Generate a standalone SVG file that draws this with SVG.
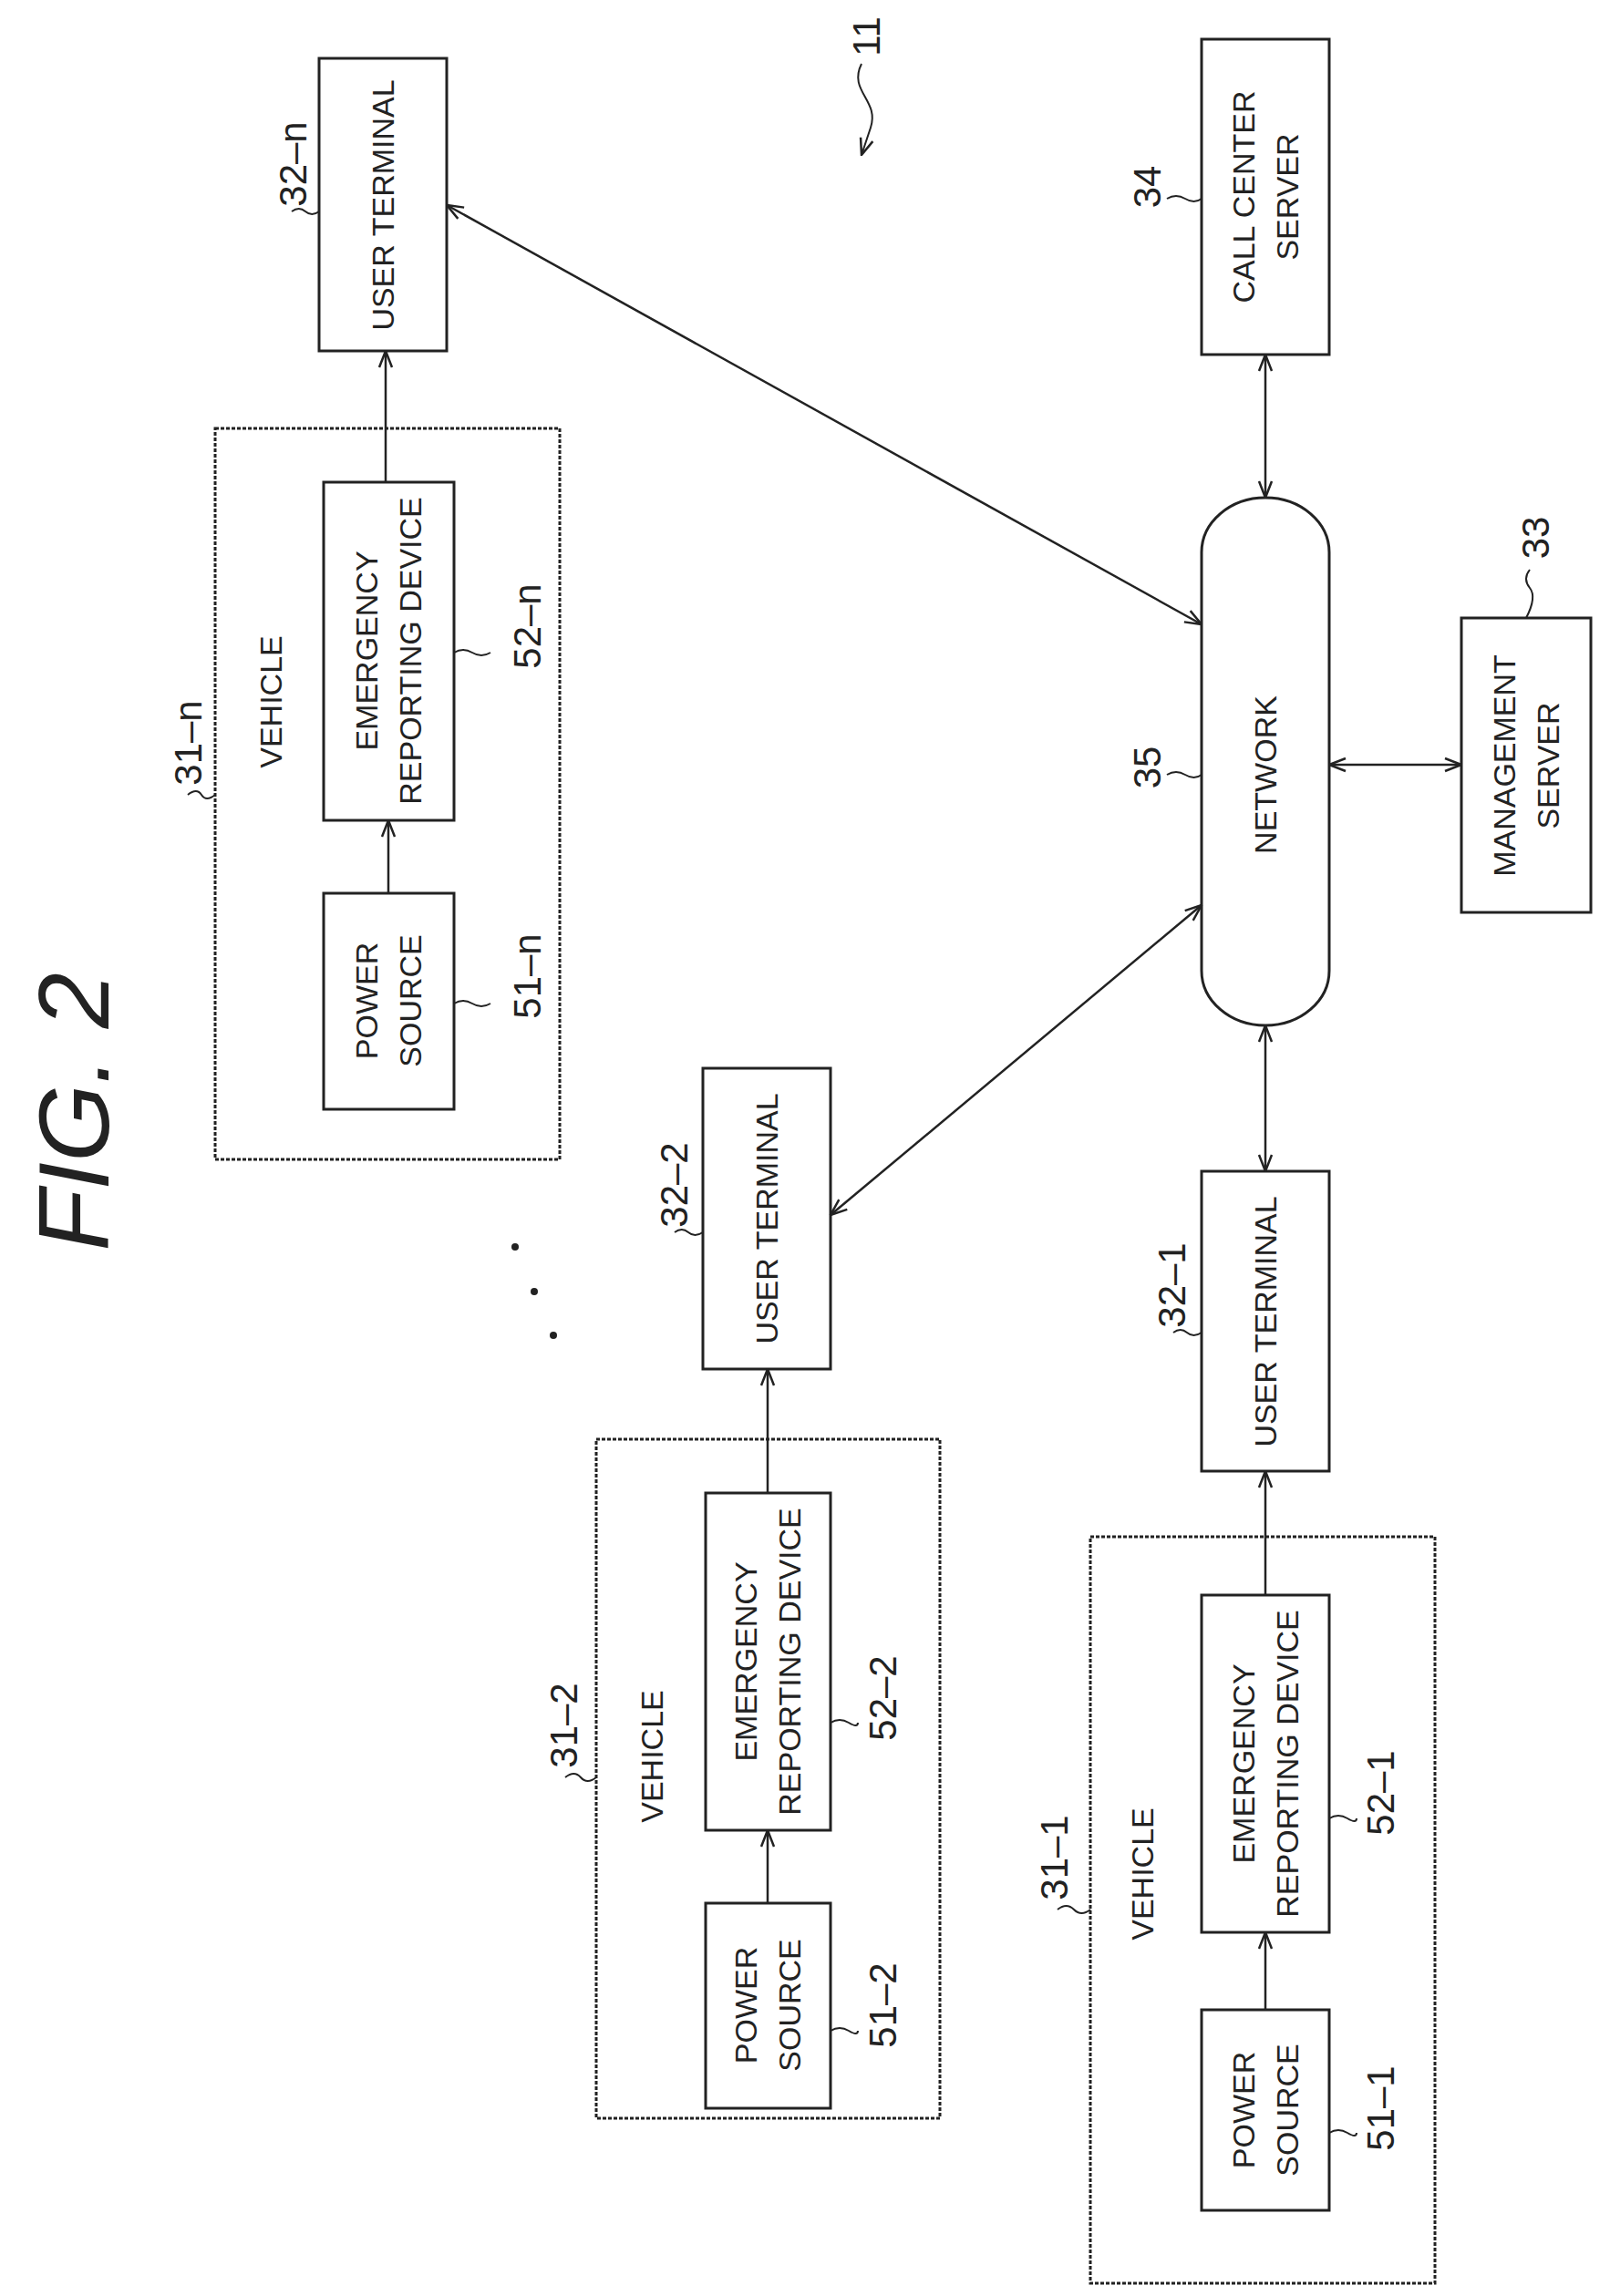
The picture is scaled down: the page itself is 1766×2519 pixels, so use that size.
<svg xmlns="http://www.w3.org/2000/svg" width="1766" height="2519" viewBox="0 0 1766 2519">
<style>
.b{fill:#fff;stroke:#222;stroke-width:3}
.v{fill:none;stroke:#222;stroke-width:3;stroke-dasharray:4 2}
.t{font-family:"Liberation Sans",Arial,sans-serif;font-size:34px;fill:#222;text-anchor:middle;dominant-baseline:central}
.n{font-family:"Liberation Sans",Arial,sans-serif;font-size:42px;fill:#222;text-anchor:middle;dominant-baseline:central}
.c{fill:none;stroke:#222;stroke-width:2.5}
.l{fill:none;stroke:#222;stroke-width:2}
</style>
<defs>
<marker id="a" viewBox="0 0 20 20" refX="19" refY="10" markerWidth="20" markerHeight="20" markerUnits="userSpaceOnUse" orient="auto-start-reverse">
<path d="M1,3 L19,10 L1,17" fill="none" stroke="#222" stroke-width="2.5"/>
</marker>
</defs>
<rect width="1766" height="2519" fill="#fff"/>
<text transform="translate(80,1220) rotate(-90)" font-family="Liberation Sans,Arial,sans-serif" font-style="italic" font-size="110" text-anchor="middle" dominant-baseline="central" fill="#222">FIG. 2</text>
<g id="ref11"><text class="n" transform="translate(950,40) rotate(-90)">11</text><path class="l" d="M945,70 C930,100 965,110 955,140 L945,170" marker-end="url(#a)"/></g>

<g id="vehicle-n"><rect class="v" x="236" y="470" width="378" height="802"/><text class="t" transform="translate(297,770) rotate(-90)">VEHICLE</text><text class="n" transform="translate(206,815) rotate(-90)">31–n</text><path class="l" d="M206,872 q10,-8 15,0 t15,0"/></g>
<g id="erd-n"><rect class="b" x="355" y="529" width="143" height="371"/><text class="t" transform="translate(426,714) rotate(-90)"><tspan x="0" y="-24">EMERGENCY</tspan><tspan x="0" y="24">REPORTING DEVICE</tspan></text><text class="n" transform="translate(578,687) rotate(-90)">52–n</text><path class="l" d="M498,716 q10,-6 20,0 t20,0"/></g>
<g id="ps-n"><rect class="b" x="355" y="980" width="143" height="237"/><text class="t" transform="translate(426,1098) rotate(-90)"><tspan x="0" y="-24">POWER</tspan><tspan x="0" y="24">SOURCE</tspan></text><text class="n" transform="translate(578,1071) rotate(-90)">51–n</text><path class="l" d="M498,1101 q10,-6 20,0 t20,0"/></g>
<g id="ut-n"><rect class="b" x="350" y="64" width="140" height="321"/><text class="t" transform="translate(420,225) rotate(-90)">USER TERMINAL</text><text class="n" transform="translate(321,180) rotate(-90)">32–n</text><path class="l" d="M320,232 q8,-6 15,0 t15,0"/></g>

<g id="ccs"><rect class="b" x="1318" y="43" width="140" height="346"/><text class="t" transform="translate(1388,216) rotate(-90)"><tspan x="0" y="-24">CALL CENTER</tspan><tspan x="0" y="24">SERVER</tspan></text><text class="n" transform="translate(1258,205) rotate(-90)">34</text><path class="l" d="M1280,218 q10,-6 20,0 t18,0"/></g>
<g id="network"><rect class="b" x="1318" y="546" width="140" height="579" rx="70" ry="60"/><text class="t" transform="translate(1388,850) rotate(-90)">NETWORK</text><text class="n" transform="translate(1258,842) rotate(-90)">35</text><path class="l" d="M1280,850 q10,-6 20,0 t18,0"/></g>
<g id="mgmt"><rect class="b" x="1603" y="678" width="142" height="323"/><text class="t" transform="translate(1674,840) rotate(-90)"><tspan x="0" y="-24">MANAGEMENT</tspan><tspan x="0" y="24">SERVER</tspan></text><text class="n" transform="translate(1684,590) rotate(-90)">33</text><path class="l" d="M1678,625 q-8,10 0,20 t-4,33"/></g>

<g id="ut-2"><rect class="b" x="771" y="1172" width="140" height="330"/><text class="t" transform="translate(841,1337) rotate(-90)">USER TERMINAL</text><text class="n" transform="translate(739,1300) rotate(-90)">32–2</text><path class="l" d="M740,1352 q8,-6 15,0 t16,0"/></g>
<g id="ut-1"><rect class="b" x="1318" y="1285" width="140" height="329"/><text class="t" transform="translate(1388,1450) rotate(-90)">USER TERMINAL</text><text class="n" transform="translate(1285,1410) rotate(-90)">32–1</text><path class="l" d="M1287,1462 q8,-6 15,0 t16,0"/></g>

<g id="dots"><circle cx="565" cy="1368" r="4" fill="#222"/><circle cx="586" cy="1417" r="4" fill="#222"/><circle cx="607" cy="1465" r="4" fill="#222"/></g>

<g id="vehicle-2"><rect class="v" x="654" y="1579" width="377" height="745"/><text class="t" transform="translate(715,1927) rotate(-90)">VEHICLE</text><text class="n" transform="translate(618,1893) rotate(-90)">31–2</text><path class="l" d="M620,1950 q10,-8 17,0 t17,0"/></g>
<g id="erd-2"><rect class="b" x="774" y="1638" width="137" height="370"/><text class="t" transform="translate(842,1823) rotate(-90)"><tspan x="0" y="-24">EMERGENCY</tspan><tspan x="0" y="24">REPORTING DEVICE</tspan></text><text class="n" transform="translate(968,1863) rotate(-90)">52–2</text><path class="l" d="M911,1890 q10,-6 20,0 t10,0"/></g>
<g id="ps-2"><rect class="b" x="774" y="2088" width="137" height="225"/><text class="t" transform="translate(842,2200) rotate(-90)"><tspan x="0" y="-24">POWER</tspan><tspan x="0" y="24">SOURCE</tspan></text><text class="n" transform="translate(968,2200) rotate(-90)">51–2</text><path class="l" d="M911,2228 q10,-6 20,0 t10,0"/></g>

<g id="vehicle-1"><rect class="v" x="1196" y="1686" width="378" height="819"/><text class="t" transform="translate(1253,2056) rotate(-90)">VEHICLE</text><text class="n" transform="translate(1156,2038) rotate(-90)">31–1</text><path class="l" d="M1160,2095 q10,-8 18,0 t18,0"/></g>
<g id="erd-1"><rect class="b" x="1318" y="1750" width="140" height="370"/><text class="t" transform="translate(1388,1935) rotate(-90)"><tspan x="0" y="-24">EMERGENCY</tspan><tspan x="0" y="24">REPORTING DEVICE</tspan></text><text class="n" transform="translate(1514,1967) rotate(-90)">52–1</text><path class="l" d="M1458,1995 q10,-6 20,0 t10,0"/></g>
<g id="ps-1"><rect class="b" x="1318" y="2205" width="140" height="220"/><text class="t" transform="translate(1388,2315) rotate(-90)"><tspan x="0" y="-24">POWER</tspan><tspan x="0" y="24">SOURCE</tspan></text><text class="n" transform="translate(1514,2313) rotate(-90)">51–1</text><path class="l" d="M1458,2340 q10,-6 20,0 t10,0"/></g>

<g id="connectors">
<line class="c" x1="423" y1="529" x2="423" y2="385" marker-end="url(#a)"/>
<line class="c" x1="426" y1="980" x2="426" y2="900" marker-end="url(#a)"/>
<line class="c" x1="490" y1="225" x2="1318" y2="685" marker-start="url(#a)" marker-end="url(#a)"/>
<line class="c" x1="1388" y1="389" x2="1388" y2="546" marker-start="url(#a)" marker-end="url(#a)"/>
<line class="c" x1="1458" y1="839" x2="1603" y2="839" marker-start="url(#a)" marker-end="url(#a)"/>
<line class="c" x1="1388" y1="1125" x2="1388" y2="1285" marker-start="url(#a)" marker-end="url(#a)"/>
<line class="c" x1="911" y1="1333" x2="1318" y2="993" marker-start="url(#a)" marker-end="url(#a)"/>
<line class="c" x1="842" y1="1638" x2="842" y2="1502" marker-end="url(#a)"/>
<line class="c" x1="842" y1="2088" x2="842" y2="2008" marker-end="url(#a)"/>
<line class="c" x1="1388" y1="1750" x2="1388" y2="1614" marker-end="url(#a)"/>
<line class="c" x1="1388" y1="2205" x2="1388" y2="2120" marker-end="url(#a)"/>
</g>
</svg>
